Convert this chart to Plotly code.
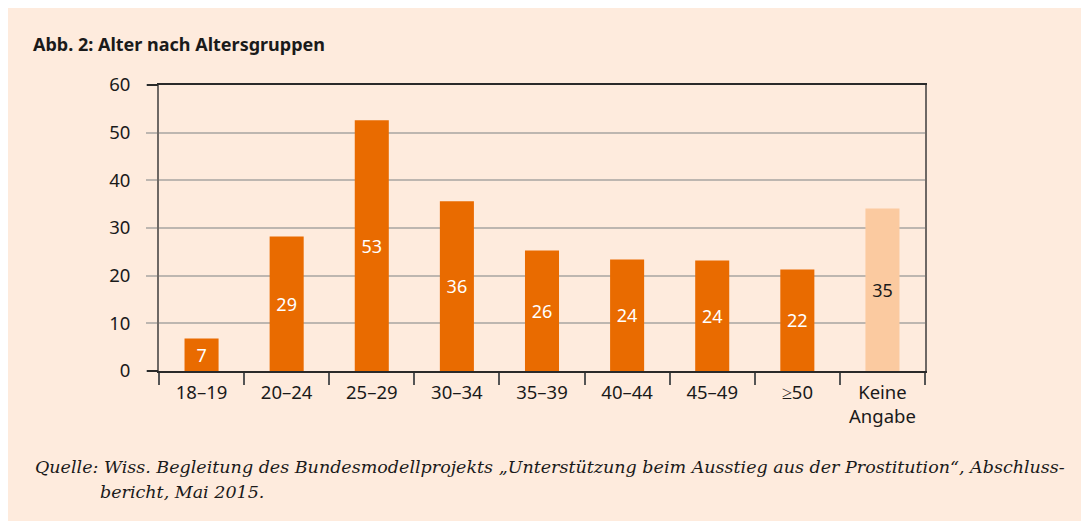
import plotly.graph_objects as go

categories = ["18–19", "20–24", "25–29", "30–34", "35–39", "40–44", "45–49", "≥50", "Keine<br>Angabe"]
values = [6.8, 28.2, 52.6, 35.6, 25.3, 23.4, 23.2, 21.3, 34.1]
labels = ["7", "29", "53", "36", "26", "24", "24", "22", "35"]
bar_colors = ["#E96B00"] * 8 + ["#FBCAA0"]
label_colors = ["#FFFFFF"] * 8 + ["#1A1A1A"]
y_ticks = [0, 10, 20, 30, 40, 50, 60]

title_text = "Abb. 2: Alter nach Altersgruppen"
source_line1 = "Quelle: Wiss. Begleitung des Bundesmodellprojekts „Unterstützung beim Ausstieg aus der Prostitution“, Abschluss-"
source_line2 = "bericht, Mai 2015."

BG = "#FEEBDD"
OFF = 8  # page body margin
W, H = 1089, 521
L, T = 159 - OFF, 85 - OFF
pw, ph = 766, 286
R, B = W - L - pw, H - T - ph

def px_x(x):
    return (x - OFF - L) / pw

def px_y(y):
    return (T + ph - (y - OFF)) / ph

fig = go.Figure()
fig.add_trace(go.Bar(
    x=categories, y=values, width=0.4,
    marker=dict(color=bar_colors, line=dict(width=0)),
    text=labels, textposition="inside", insidetextanchor="middle",
    textfont=dict(family="Noto Sans", size=18, color=label_colors),
    textangle=0, cliponaxis=False, showlegend=False, hoverinfo="skip",
))
# dark ticks at 0 and 60 (overlay axis)
fig.add_trace(go.Scatter(x=[categories[0]], y=[None], yaxis="y2", showlegend=False, hoverinfo="skip"))

fig.update_layout(
    width=W, height=H,
    margin=dict(l=L, r=R, t=T, b=B, pad=0),
    paper_bgcolor=BG, plot_bgcolor=BG,
    font=dict(family="Noto Sans", size=18, color="#1A1A1A"),
    title=dict(text="<b>" + title_text + "</b>", xref="container", yref="container",
               x=(33 - OFF) / W, y=1 - (45 - OFF) / H, xanchor="left", yanchor="middle",
               font=dict(family="Noto Sans", size=18, color="#1A1A1A")),
    xaxis=dict(type="category", tickson="boundaries", ticks="outside", ticklen=12,
               tickwidth=1.5, tickcolor="#555555", showline=True, linecolor="#2A2A2A",
               linewidth=1.5, mirror=True, showgrid=False, zeroline=False,
               ticklabelstandoff=4,
               tickfont=dict(family="Noto Sans", size=18.5, color="#1A1A1A")),
    yaxis=dict(range=[0, 60], tickvals=y_ticks, ticks="outside", ticklen=11,
               tickwidth=1.5, tickcolor="#BDB6B0", showline=True, linecolor="#6E6864",
               linewidth=2, mirror=True, showgrid=True, gridcolor="#BDB6B0", gridwidth=1.5,
               zeroline=False, ticklabelstandoff=12,
               tickfont=dict(family="Noto Sans", size=18.5, color="#1A1A1A")),
    yaxis2=dict(range=[0, 60], overlaying="y", side="left", tickvals=[0, 60],
                ticks="outside", ticklen=11, tickwidth=1.5, tickcolor="#2A2A2A",
                showticklabels=False, showgrid=False, zeroline=False, showline=False),
    bargap=0.6,
    annotations=[
        dict(text="<i>" + source_line1 + "</i>", xref="paper", yref="paper",
             x=px_x(33), y=px_y(467), xanchor="left", yanchor="middle", showarrow=False,
             font=dict(family="DejaVu Serif", size=17.5, color="#1A1A1A")),
        dict(text="<i>" + source_line2 + "</i>", xref="paper", yref="paper",
             x=px_x(98), y=px_y(492), xanchor="left", yanchor="middle", showarrow=False,
             font=dict(family="DejaVu Serif", size=17.5, color="#1A1A1A")),
    ],
)

fig.write_html("out.html")
